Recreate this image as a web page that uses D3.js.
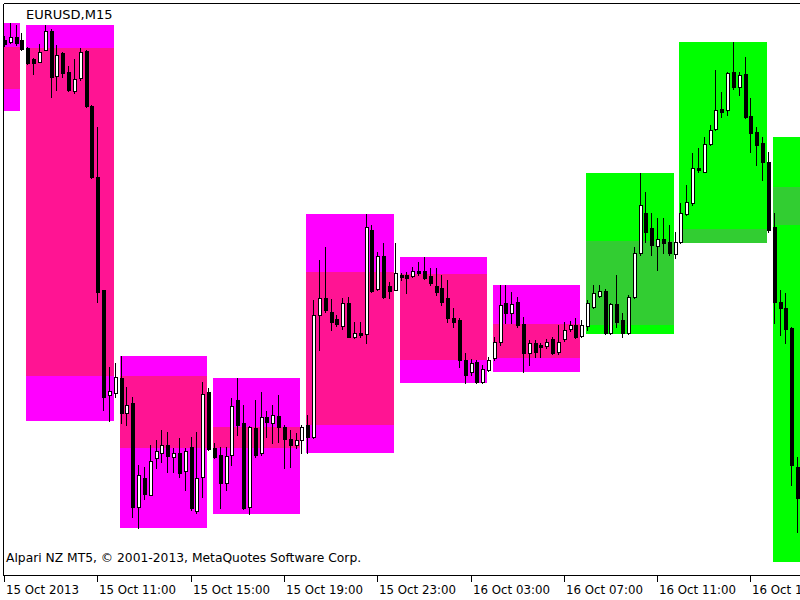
<!DOCTYPE html>
<html><head><meta charset="utf-8">
<script src="https://cdn.jsdelivr.net/npm/d3@7"></script>
<style>html,body{margin:0;padding:0;background:#fff;}svg{display:block;}</style>
</head><body>
<svg id="chart" width="800" height="600"></svg>
<script>
// ---- data (EURUSD M15, bar 0 = 15 Oct 2013 07:00) ----
const symbol = "EURUSD,M15";
const copyright = "Alpari NZ MT5, \u00A9 2001-2013, MetaQuotes Software Corp.";
const tickBars = [0, 16, 32, 48, 64, 80, 96, 112, 128];
const tickLabels = ["15 Oct 2013", "15 Oct 11:00", "15 Oct 15:00", "15 Oct 19:00", "15 Oct 23:00",
  "16 Oct 03:00", "16 Oct 07:00", "16 Oct 11:00", "16 Oct 15:00"];

const open = [1.35960,1.35958,1.35963,1.35960,1.35952,1.35941,1.35938,1.35950,1.35969,1.35924,
1.35947,1.35928,1.35909,1.35922,1.35949,1.35894,1.35823,1.35710,1.35605,1.35607,
1.35622,1.35587,1.35597,1.35493,1.35522,1.35505,1.35542,1.35547,1.35555,1.35543,
1.35547,1.35529,1.35553,1.35489,1.35523,1.35608,1.35552,1.35545,1.35517,1.35545,
1.35600,1.35577,1.35493,1.35572,1.35547,1.35583,1.35577,1.35584,1.35573,1.35561,
1.35555,1.35560,1.35575,1.35563,1.35685,1.35702,1.35688,1.35681,1.35674,1.35697,
1.35663,1.35667,1.35666,1.35770,1.35711,1.35744,1.35714,1.35710,1.35725,1.35725,
1.35724,1.35729,1.35729,1.35724,1.35714,1.35712,1.35702,1.35682,1.35680,1.35640,
1.35628,1.35638,1.35618,1.35630,1.35642,1.35658,1.35697,1.35687,1.35698,1.35676,
1.35647,1.35657,1.35655,1.35654,1.35661,1.35648,1.35661,1.35671,1.35675,1.35664,
1.35674,1.35693,1.35704,1.35709,1.35667,1.35696,1.35680,1.35667,1.35703,1.35747,
1.35787,1.35772,1.35754,1.35761,1.35758,1.35746,1.35758,1.35786,1.35797,1.35832,
1.35828,1.35856,1.35871,1.35891,1.35890,1.35928,1.35913,1.35926,1.35884,1.35868,
1.35857,1.35838,1.35773,1.35698,1.35692,1.35672,1.35533];
const high = [1.35964,1.35977,1.35975,1.35967,1.35953,1.35942,1.35956,1.35975,1.35971,1.35955,
1.35948,1.35934,1.35941,1.35952,1.35950,1.35895,1.35873,1.35710,1.35633,1.35637,
1.35644,1.35613,1.35603,1.35535,1.35533,1.35555,1.35560,1.35570,1.35568,1.35552,
1.35562,1.35552,1.35563,1.35568,1.35618,1.35612,1.35557,1.35553,1.35553,1.35602,
1.35622,1.35595,1.35574,1.35600,1.35608,1.35589,1.35595,1.35605,1.35575,1.35570,
1.35567,1.35575,1.35585,1.35700,1.35740,1.35753,1.35701,1.35685,1.35702,1.35703,
1.35678,1.35678,1.35786,1.35775,1.35748,1.35757,1.35718,1.35757,1.35727,1.35728,
1.35733,1.35738,1.35743,1.35732,1.35732,1.35725,1.35720,1.35692,1.35682,1.35647,
1.35641,1.35640,1.35635,1.35643,1.35663,1.35715,1.35715,1.35708,1.35703,1.35683,
1.35660,1.35660,1.35657,1.35661,1.35663,1.35675,1.35678,1.35679,1.35682,1.35680,
1.35700,1.35715,1.35715,1.35711,1.35697,1.35725,1.35687,1.35705,1.35753,1.35827,
1.35808,1.35787,1.35782,1.35782,1.35775,1.35768,1.35797,1.35815,1.35847,1.35852,
1.35863,1.35875,1.35930,1.35908,1.35928,1.35958,1.35928,1.35943,1.35902,1.35873,
1.35863,1.35848,1.35787,1.35710,1.35707,1.35673,1.35543];
const low = [1.35954,1.35957,1.35955,1.35950,1.35936,1.35926,1.35938,1.35950,1.35903,1.35910,
1.35923,1.35909,1.35907,1.35920,1.35893,1.35822,1.35698,1.35590,1.35579,1.35603,
1.35577,1.35575,1.35483,1.35472,1.35501,1.35505,1.35532,1.35538,1.35528,1.35528,
1.35523,1.35510,1.35490,1.35487,1.35503,1.35550,1.35542,1.35492,1.35510,1.35535,
1.35565,1.35491,1.35486,1.35543,1.35545,1.35563,1.35557,1.35558,1.35532,1.35533,
1.35552,1.35547,1.35547,1.35562,1.35650,1.35688,1.35670,1.35674,1.35671,1.35663,
1.35662,1.35663,1.35657,1.35708,1.35710,1.35702,1.35702,1.35710,1.35720,1.35707,
1.35723,1.35725,1.35721,1.35715,1.35705,1.35695,1.35678,1.35673,1.35633,1.35617,
1.35625,1.35617,1.35617,1.35629,1.35640,1.35655,1.35677,1.35677,1.35673,1.35628,
1.35635,1.35643,1.35643,1.35652,1.35646,1.35646,1.35659,1.35669,1.35662,1.35663,
1.35670,1.35692,1.35703,1.35666,1.35666,1.35673,1.35663,1.35666,1.35702,1.35745,
1.35758,1.35745,1.35730,1.35747,1.35745,1.35742,1.35757,1.35785,1.35795,1.35828,
1.35828,1.35855,1.35870,1.35883,1.35885,1.35911,1.35905,1.35882,1.35848,1.35835,
1.35820,1.35768,1.35677,1.35665,1.35657,1.35515,1.35468];
const close = [1.35956,1.35963,1.35957,1.35951,1.35937,1.35937,1.35948,1.35969,1.35923,1.35945,
1.35927,1.35910,1.35921,1.35948,1.35894,1.35823,1.35708,1.35603,1.35609,1.35623,
1.35587,1.35595,1.35493,1.35525,1.35506,1.35539,1.35549,1.35555,1.35544,1.35547,
1.35527,1.35549,1.35492,1.35522,1.35606,1.35551,1.35543,1.35517,1.35544,1.35594,
1.35575,1.35492,1.35573,1.35545,1.35583,1.35578,1.35585,1.35573,1.35561,1.35555,
1.35560,1.35573,1.35563,1.35685,1.35702,1.35690,1.35678,1.35676,1.35697,1.35663,
1.35667,1.35665,1.35773,1.35709,1.35744,1.35703,1.35709,1.35727,1.35723,1.35722,
1.35729,1.35727,1.35722,1.35717,1.35708,1.35698,1.35682,1.35678,1.35640,1.35625,
1.35637,1.35618,1.35631,1.35640,1.35658,1.35695,1.35687,1.35696,1.35675,1.35647,
1.35657,1.35648,1.35653,1.35658,1.35647,1.35658,1.35670,1.35675,1.35663,1.35675,
1.35697,1.35707,1.35709,1.35667,1.35696,1.35678,1.35667,1.35703,1.35747,1.35795,
1.35768,1.35755,1.35761,1.35757,1.35747,1.35758,1.35787,1.35798,1.35832,1.35830,
1.35856,1.35870,1.35890,1.35888,1.35927,1.35913,1.35925,1.35883,1.35867,1.35855,
1.35838,1.35770,1.35698,1.35692,1.35671,1.35535,1.35502];

// 4-hour blocks drawn as boxes (first / last bar index, OHLC, trend flag)
const blockStart = [-12, 4, 20, 36, 52, 68, 84, 100, 116, 132];
const blockEnd   = [3, 19, 35, 51, 67, 83, 99, 115, 131, 147];
const blockOpen  = [1.35911,1.35952,1.35624,1.35552,1.35575,1.35726,1.35642,1.35675,1.35757,1.35775];
const blockHigh  = [1.35977,1.35975,1.35644,1.35622,1.35786,1.35743,1.35715,1.35827,1.35958,1.35863];
const blockLow   = [1.35889,1.35579,1.35472,1.35486,1.35547,1.35617,1.35628,1.35666,1.35757,1.35438];
const blockClose = [1.35953,1.35624,1.35552,1.35573,1.35728,1.35640,1.35676,1.35759,1.35771,1.35813];
const blockTrend = [-1,-1,-1,-1,-1,-1,-1,1,1,1];

// ---- drawing ----
const svg = d3.select("#chart");
const W = 800, H = 600;
const plot = {left: 4, top: 4, bottom: 575};
const x = d3.scaleLinear().domain([0, 16]).range([4, 97.3]);
const y = d3.scaleLinear().domain([1.35400, 1.36000]).range([600, 0]);
const colors = {outer: {"-1": "#FF00FF", "1": "#00FF00"}, inner: {"-1": "#FF1493", "1": "#32CD32"}};

svg.append("defs").append("clipPath").attr("id", "clip")
  .append("rect").attr("x", plot.left).attr("y", plot.top)
  .attr("width", W - plot.left).attr("height", plot.bottom - plot.top);

const g = svg.append("g").attr("clip-path", "url(#clip)").attr("shape-rendering", "crispEdges");

const blocks = blockStart.map((s, k) => ({s, e: blockEnd[k], o: blockOpen[k], h: blockHigh[k],
  l: blockLow[k], c: blockClose[k], t: blockTrend[k]}));

g.selectAll("rect.outer").data(blocks).join("rect").attr("class", "outer")
  .attr("x", d => Math.round(x(d.s)) - 1)
  .attr("width", d => Math.round(x(d.e)) - Math.round(x(d.s)))
  .attr("y", d => Math.round(y(d.h)))
  .attr("height", d => Math.round(y(d.l)) - Math.round(y(d.h)))
  .attr("fill", d => colors.outer[d.t]);

g.selectAll("rect.inner").data(blocks).join("rect").attr("class", "inner")
  .attr("x", d => Math.round(x(d.s)) - 1)
  .attr("width", d => Math.round(x(d.e)) - Math.round(x(d.s)))
  .attr("y", d => Math.round(y(Math.max(d.o, d.c))))
  .attr("height", d => Math.abs(Math.round(y(d.o)) - Math.round(y(d.c))))
  .attr("fill", d => colors.inner[d.t]);

const bars = open.map((o, i) => ({i, o, h: high[i], l: low[i], c: close[i]}));
const cg = g.selectAll("g.bar").data(bars).join("g").attr("class", "bar");
cg.append("rect") // wick
  .attr("x", d => Math.round(x(d.i)))
  .attr("width", 1)
  .attr("y", d => Math.round(y(d.h)))
  .attr("height", d => Math.max(1, Math.round(y(d.l)) - Math.round(y(d.h)) + 1))
  .attr("fill", "#000");
cg.append("rect") // body outline
  .attr("x", d => Math.round(x(d.i)) - 1)
  .attr("width", 4)
  .attr("y", d => Math.round(y(Math.max(d.o, d.c))))
  .attr("height", d => Math.max(2, Math.abs(Math.round(y(d.o)) - Math.round(y(d.c))) + 1))
  .attr("fill", "#000");
cg.filter(d => d.c > d.o).append("rect") // white body interior
  .attr("x", d => Math.round(x(d.i)))
  .attr("width", 2)
  .attr("y", d => Math.round(y(d.c)) + 1)
  .attr("height", d => Math.max(0, Math.round(y(d.o)) - Math.round(y(d.c)) - 1))
  .attr("fill", "#fff");

// frame
const fr = svg.append("g").attr("shape-rendering", "crispEdges").attr("stroke", "#000");
fr.append("line").attr("x1", 3.5).attr("x2", 3.5).attr("y1", 3.5).attr("y2", 575.5);
fr.append("line").attr("x1", 3.5).attr("x2", W).attr("y1", 3.5).attr("y2", 3.5);
fr.append("line").attr("x1", 3.5).attr("x2", W).attr("y1", 575.5).attr("y2", 575.5);

// time axis ticks and labels
const ticks = tickBars.map((b, k) => ({b, label: tickLabels[k]}));
svg.append("g").attr("shape-rendering", "crispEdges").selectAll("line").data(ticks).join("line")
  .attr("x1", d => Math.round(x(d.b)) + 0.5).attr("x2", d => Math.round(x(d.b)) + 0.5)
  .attr("y1", 576).attr("y2", 582).attr("stroke", "#000");
svg.append("g").selectAll("text").data(ticks).join("text")
  .attr("x", d => Math.round(x(d.b)) + 2).attr("y", 594)
  .attr("font-family", "DejaVu Sans").attr("font-size", 11.8).attr("fill", "#000")
  .text(d => d.label);

svg.append("text").attr("x", 26).attr("y", 19)
  .attr("font-family", "DejaVu Sans").attr("font-size", 13).attr("fill", "#000").text(symbol);
svg.append("text").attr("x", 6).attr("y", 562)
  .attr("font-family", "DejaVu Sans").attr("font-size", 12.3).attr("fill", "#000").text(copyright);
</script>
</body></html>
